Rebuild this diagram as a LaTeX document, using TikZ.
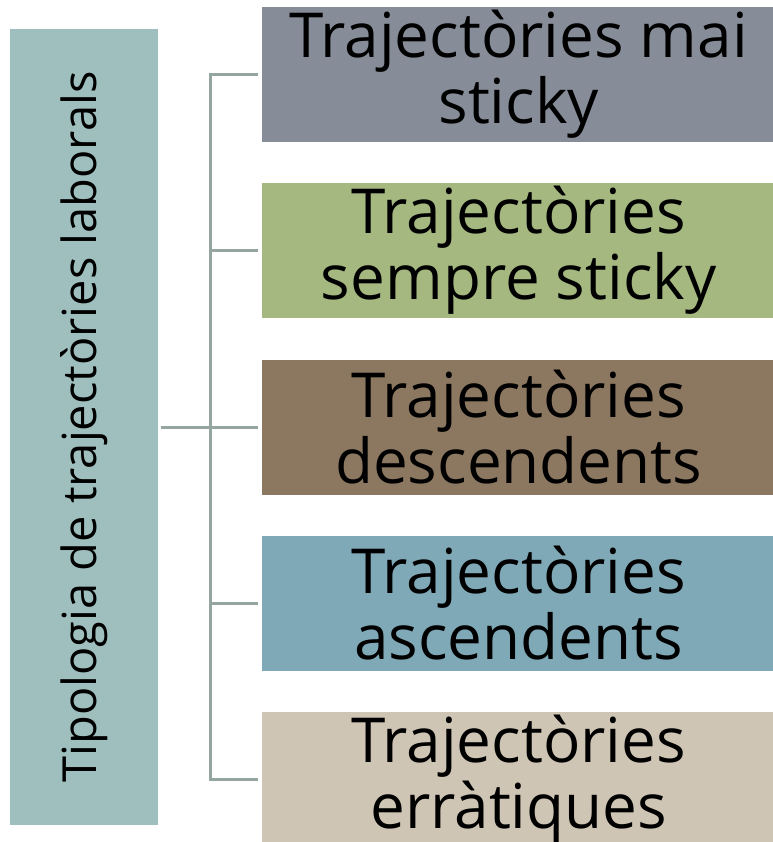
\documentclass[tikz,border=0pt]{standalone}
\usepackage{fontspec}
\setmainfont{Open Sans}
\usetikzlibrary{positioning}
\definecolor{tipo}{HTML}{9EBFBE}
\definecolor{mai}{HTML}{878D98}
\definecolor{sempre}{HTML}{A4B880}
\definecolor{desc}{HTML}{8C7860}
\definecolor{asc}{HTML}{7FA9B7}
\definecolor{errat}{HTML}{CFC5B5}
\definecolor{linia}{HTML}{95A59F}
\begin{document}
\begin{tikzpicture}[x=1pt,y=-1pt,
  every node/.style={inner sep=0pt, align=center},
  traj/.style={minimum width=513pt, minimum height=135pt, anchor=west, font=\fontsize{62}{66}\selectfont},
  conn/.style={draw=linia, line width=3pt}]
\useasboundingbox (0,0) rectangle (772,842);
\node[fill=tipo, minimum width=796pt, minimum height=148pt, rotate=90, font=\fontsize{47}{52}\selectfont] (tipo) at (84,427) {Tipologia de trajectòries laborals};
\node[traj, fill=mai] (a) at (262,74.5) {Trajectòries mai\\sticky};
\node[traj, fill=sempre] (b) at (262,250.5) {Trajectòries\\sempre sticky};
\node[traj, fill=desc] (c) at (262,427) {Trajectòries\\descendents};
\node[traj, fill=asc] (d) at (262,603) {Trajectòries\\ascendents};
\node[traj, fill=errat] (e) at (262,779.5) {Trajectòries\\erràtiques};
\coordinate (j) at (210,427);
\draw[conn] ([xshift=3pt]tipo.south) -- (j);
\draw[conn] (a.west) ++(-4,0) -| (j);
\draw[conn] (e.west) ++(-4,0) -| (j);
\foreach \n in {b,c,d} \draw[conn] ([xshift=-4pt]\n.west) -- (\n.west -| j);
\end{tikzpicture}
\end{document}
